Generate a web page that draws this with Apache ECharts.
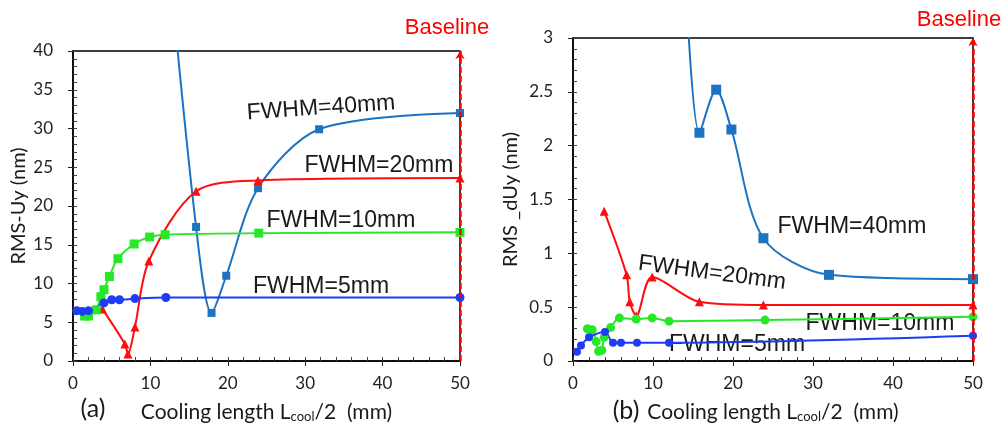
<!DOCTYPE html>
<html>
<head>
<meta charset="utf-8">
<script src="https://cdn.jsdelivr.net/npm/echarts@6/dist/echarts.min.js"></script>
<style>
html,body{margin:0;padding:0;background:#fff;}
#main{width:1006px;height:428px;}
</style>
</head>
<body>
<div id="main"></div>
<script>
// (a) RMS-Uy (nm)
var a_x5 = [0.5, 1.2, 2, 4, 5, 6, 8, 12, 50];
var a_y5 = [6.5, 6.4, 6.5, 7.5, 7.9, 7.9, 8.05, 8.2, 8.2];
var a_x10 = [1.5, 2, 3, 3.6, 4, 4.7, 5.8, 7.9, 9.9, 11.9, 24, 50];
var a_y10 = [5.8, 5.8, 6.6, 8.3, 9.2, 10.9, 13.2, 15.1, 16.0, 16.3, 16.5, 16.6];
var a_x20 = [3.8, 6.7, 7.1, 8, 9.8, 15.9, 23.9, 50];
var a_y20 = [6.7, 2.2, 0.9, 4.4, 12.9, 21.9, 23.3, 23.6];
var a_x40 = [12, 15.9, 17.9, 19.8, 23.9, 31.8, 50];
var a_y40 = [56, 17.3, 6.2, 11.0, 22.3, 29.9, 32.0];

// (b) RMS_dUy (nm)
var b_x5 = [0.5, 1, 2, 4, 5, 6, 8, 12, 50];
var b_y5 = [0.085, 0.145, 0.22, 0.27, 0.17, 0.17, 0.17, 0.17, 0.235];
var b_x10 = [1.8, 2.4, 2.9, 3.2, 3.6, 3.9, 4.7, 5.8, 7.9, 9.9, 12, 24, 50];
var b_y10 = [0.30, 0.29, 0.18, 0.09, 0.10, 0.22, 0.31, 0.40, 0.39, 0.40, 0.37, 0.38, 0.41];
var b_x20 = [3.9, 6.7, 7.1, 7.9, 9.9, 15.8, 23.8, 50];
var b_y20 = [1.39, 0.80, 0.55, 0.42, 0.78, 0.55, 0.52, 0.52];
var b_x40 = [14, 15.8, 17.9, 19.8, 23.8, 32, 50];
var b_y40 = [3.7, 2.12, 2.52, 2.15, 1.14, 0.80, 0.76];

var xTicks = [0, 10, 20, 30, 40, 50];

var c5 = '#1f3cf5', c10 = '#27e827', c20 = '#ff0d0d', c40 = '#1b73c2';
var axisFont = 'Lato';
var labelFont = '"Liberation Sans", Arial';

function pairs(xs, ys){
	var out = [];
	for(var i = 0; i < xs.length; i++){
		out.push([xs[i], ys[i]]);
	}
	return out;
}

function xAxes(gi){
	return [{
		type: 'value', gridIndex: gi, min: xTicks[0], max: xTicks[xTicks.length-1], interval: 10,
		name: 'Cooling length L{sub|cool}/2  (mm)', nameLocation: 'middle', nameGap: 40,
		nameTextStyle: {
			fontFamily: axisFont, fontSize: 21, color: '#1a1a1a',
			rich: {sub: {fontFamily: axisFont, fontSize: 13, color: '#1a1a1a', padding: [9, 0, 0, 0]}}
		},
		axisLine: {lineStyle: {color: '#000', width: 1.5}},
		axisTick: {length: 5, lineStyle: {color: '#222', width: 1}},
		axisLabel: {margin: 14, fontFamily: axisFont, fontSize: 17, color: '#222'},
		splitLine: {show: false}
	}, {
		// minor ticks inside
		type: 'value', gridIndex: gi, min: 0, max: 50, interval: 2, position: 'bottom',
		axisLine: {show: false},
		axisTick: {inside: true, length: 4, lineStyle: {color: '#444', width: 1}},
		axisLabel: {show: false},
		splitLine: {show: false}
	}];
}

function yAxes(gi, max, step, minor, name, gap){
	return [{
		type: 'value', gridIndex: gi, min: 0, max: max, interval: step,
		name: name, nameLocation: 'middle', nameGap: gap,
		nameTextStyle: {fontFamily: axisFont, fontSize: 20, color: '#1a1a1a'},
		axisLine: {show: true, lineStyle: {color: '#000', width: 1.5}},
		axisTick: {show: true, length: 5, lineStyle: {color: '#222', width: 1}},
		axisLabel: {margin: 20, fontFamily: axisFont, fontSize: 17, color: '#222'},
		splitLine: {show: false}
	}, {
		type: 'value', gridIndex: gi, min: 0, max: max, interval: minor, position: 'left',
		axisLine: {show: false},
		axisTick: {show: true, inside: true, length: 4, lineStyle: {color: '#444', width: 1}},
		axisLabel: {show: false},
		splitLine: {show: false}
	}];
}

function lineSeries(xi, yi, data, color, sym, size, extra){
	var s = {
		type: 'line', xAxisIndex: xi, yAxisIndex: yi, data: data,
		smooth: 0.3, symbol: sym, symbolSize: size, showSymbol: true,
		lineStyle: {color: color, width: 2}, itemStyle: {color: color},
		clip: true
	};
	if(extra){ for(var k in extra){ s[k] = extra[k]; } }
	return s;
}

var baseLine = {
	silent: true, symbol: ['none', 'arrow'], symbolSize: [7, 8],
	lineStyle: {color: '#ff0000', type: [6, 3], width: 2.5},
	label: {show: false},
	data: [{xAxis: 50}]
};

function txt(x, y, s, size, rot, color, font){
	return {
		type: 'text', x: x, y: y, rotation: (rot || 0) * Math.PI / 180,
		style: {text: s, font: size + 'px ' + (font || labelFont), fill: color || '#1a1a1a',
			textAlign: 'center', textVerticalAlign: 'middle'}
	};
}

var chart = echarts.init(document.getElementById('main'));

var option = {
	animation: false,
	grid: [
		{left: 73, top: 51, width: 387, height: 315, show: true, borderColor: '#000', borderWidth: 1.5},
		{left: 573, top: 38, width: 400, height: 330, show: true, borderColor: '#000', borderWidth: 1.5}
	],
	xAxis: xAxes(0).concat(xAxes(1)),
	yAxis: yAxes(0, 40, 5, 1, 'RMS-Uy (nm)', 44).concat(yAxes(1, 3, 0.5, 0.1, 'RMS _dUy (nm)', 52)),
	series: [
		lineSeries(0, 0, pairs(a_x40, a_y40), c40, 'rect', 8),
		lineSeries(0, 0, pairs(a_x20, a_y20), c20, 'triangle', 9),
		lineSeries(0, 0, pairs(a_x10, a_y10), c10, 'rect', 9),
		lineSeries(0, 0, pairs(a_x5, a_y5), c5, 'circle', 9, {markLine: baseLine}),
		lineSeries(2, 2, pairs(b_x40, b_y40), c40, 'rect', 10),
		lineSeries(2, 2, pairs(b_x20, b_y20), c20, 'triangle', 9),
		lineSeries(2, 2, pairs(b_x10, b_y10), c10, 'circle', 9),
		lineSeries(2, 2, pairs(b_x5, b_y5), c5, 'circle', 8, {markLine: baseLine})
	],
	graphic: [
		txt(447, 28, 'Baseline', 22, 0, '#ff0000'),
		txt(959, 20, 'Baseline', 22, 0, '#ff0000'),
		txt(93, 409, '(a)', 25, 0, '#1a1a1a', axisFont),
		txt(626, 411, '(b)', 25, 0, '#1a1a1a', axisFont),
		txt(321, 108, 'FWHM=40mm', 23, 4),
		txt(379, 166, 'FWHM=20mm', 23, 0),
		txt(341, 221, 'FWHM=10mm', 23, 0),
		txt(321, 287, 'FWHM=5mm', 23, 0),
		txt(852, 227, 'FWHM=40mm', 23, 0),
		txt(712, 273, 'FWHM=20mm', 23, -7.5),
		txt(880, 324, 'FWHM=10mm', 23, 0),
		txt(737, 345, 'FWHM=5mm', 23, 0)
	]
};

chart.setOption(option);
</script>
</body>
</html>
